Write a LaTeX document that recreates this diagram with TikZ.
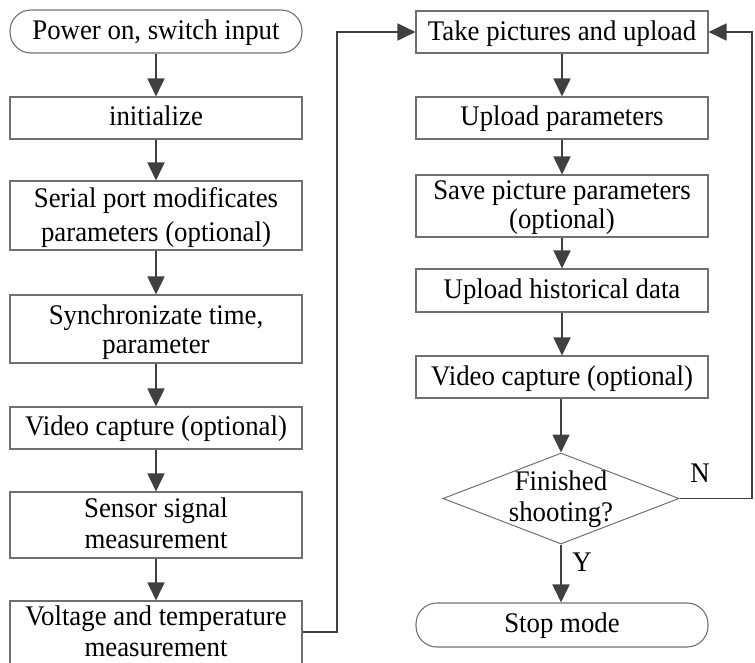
\documentclass[tikz,border=0pt]{standalone}
\usepackage{fontspec}
\setmainfont{Liberation Serif}
\usetikzlibrary{shapes.geometric,arrows.meta}
\definecolor{linec}{HTML}{404040}
\definecolor{boxc}{HTML}{707070}
\newcommand{\tallt}[1]{\scalebox{1}[1.06]{#1}}
\begin{document}
\begin{tikzpicture}[x=1pt,y=-1pt,
  lbl/.style={font=\fontsize{26.8}{32}\selectfont, text=black, inner sep=0pt, anchor=base},
  box/.style={draw=boxc, line width=1.1pt, rectangle, minimum width=292pt, inner sep=0pt},
  term/.style={box, rounded corners=21pt},
  flow/.style={draw=linec, line width=1.8pt, -{Triangle[length=18pt,width=17pt]}},
  wire/.style={draw=linec, line width=1.8pt}]
\useasboundingbox (0,0) rectangle (755,662);
% left column boxes
\node[term, minimum height=43pt] (start) at (156,31.5) {};
\node[box, minimum height=42pt] (init) at (156,118) {};
\node[box, minimum height=69pt] (serial) at (156,215.5) {};
\node[box, minimum height=68pt] (sync) at (156,329) {};
\node[box, minimum height=42pt] (vid1) at (156,428) {};
\node[box, minimum height=66pt] (sens) at (156,525) {};
\node[box, minimum height=70pt] (volt) at (156,636) {};
% left column texts
\node[lbl] (startt) at (156,39.3) {\tallt{Power on, switch input}};
\node[lbl] (initt) at (156,125) {\tallt{initialize}};
\node[lbl] (serialta) at (156,207.3) {\tallt{Serial port modificates}};
\node[lbl] (serialtb) at (156,241.7) {\tallt{parameters (optional)}};
\node[lbl] (syncta) at (156,324.5) {\tallt{Synchronizate time,}};
\node[lbl] (synctb) at (156,353) {\tallt{parameter}};
\node[lbl] (vid1t) at (156,435) {\tallt{Video capture (optional)}};
\node[lbl] (sensta) at (156,517) {\tallt{Sensor signal}};
\node[lbl] (senstb) at (156,548) {\tallt{measurement}};
\node[lbl] (voltta) at (156,625) {\tallt{Voltage and temperature}};
\node[lbl] (volttb) at (156,656.5) {\tallt{measurement}};
% right column boxes
\node[box, minimum height=42pt] (take) at (562,32) {};
\node[box, minimum height=42pt] (upl) at (562,118) {};
\node[box, minimum height=62pt] (save) at (562,206) {};
\node[box, minimum height=43pt] (hist) at (562,290.5) {};
\node[box, minimum height=42pt] (vid2) at (562,377) {};
\node[draw=boxc, line width=1pt, diamond, minimum width=236pt, minimum height=91pt, inner sep=0pt] (dia) at (561,498.5) {};
\node[term, minimum height=44pt] (stop) at (562,625) {};
% right column texts
\node[lbl] (taket) at (562,40) {\tallt{Take pictures and upload}};
\node[lbl] (uplt) at (562,125.5) {\tallt{Upload parameters}};
\node[lbl] (saveta) at (562,199) {\tallt{Save picture parameters}};
\node[lbl] (savetb) at (562,228.5) {\tallt{(optional)}};
\node[lbl] (histt) at (562,298.3) {\tallt{Upload historical data}};
\node[lbl] (vid2t) at (562,385) {\tallt{Video capture (optional)}};
\node[lbl] (diata) at (561,490.7) {\tallt{Finished}};
\node[lbl] (diatb) at (561,521.7) {\tallt{shooting?}};
\node[lbl] (stopt) at (562,632.7) {\tallt{Stop mode}};
\node[lbl] (N) at (700,482.7) {\tallt{N}};
\node[lbl] (Y) at (582,571.7) {\tallt{Y}};
% connector corners
\coordinate (c1) at (337,632);
\coordinate (c2) at (337,32);
\coordinate (c3) at (752,498.5);
\coordinate (c4) at (752,32);
% connectors
\draw[flow] (start) -- (init);
\draw[flow] (init) -- (serial);
\draw[flow] (serial) -- (sync);
\draw[flow] (sync) -- (vid1);
\draw[flow] (vid1) -- (sens);
\draw[flow] (sens) -- (volt.north);
\draw[flow] (volt.east |- c1) -- (c1) -- (c2) -- (take.west);
\draw[flow] (take) -- (upl);
\draw[flow] (upl) -- (save);
\draw[flow] (save) -- (hist);
\draw[flow] (hist) -- (vid2);
\draw[flow] (vid2.south -| dia.north) -- (dia.north);
\draw[flow] (dia.south) -- (stop.north -| dia.south);
\draw[flow] (dia.east) -- (c3) -- (c4) -- (take.east);
\end{tikzpicture}
\end{document}
